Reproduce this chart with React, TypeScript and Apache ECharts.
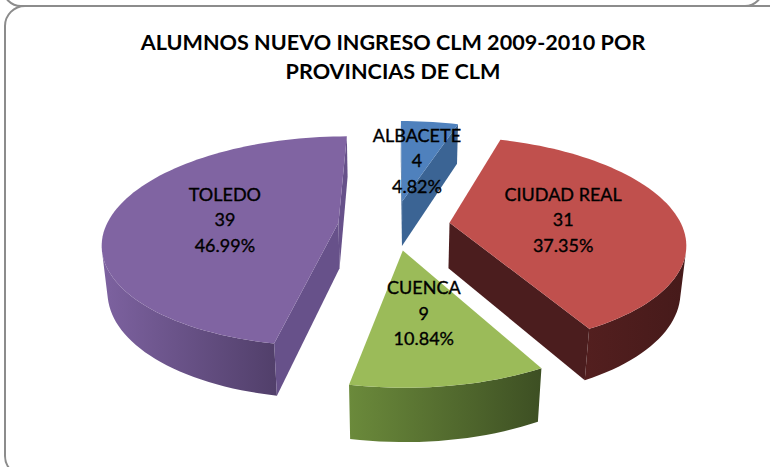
import React, { useEffect, useRef } from 'react';
import * as echarts from 'echarts';

// ---- data ----
const provinces = ['ALBACETE', 'CIUDAD REAL', 'CUENCA', 'TOLEDO'];
const alumnos = [4, 31, 9, 39];
const titleLines = ['ALUMNOS NUEVO INGRESO CLM 2009-2010 POR', 'PROVINCIAS DE CLM'];

// ---- styles ----
const topColors = ['#4F81BD', '#C0504D', '#9BBB59', '#8064A2'];
const wallColors = ['#3b6494', '#4b1d1e', '#5d7a34', '#67518a'];
const sideLight = ['#3f6a9c', '#531f1f', '#6b8a3b', '#7d62a0'];
const sideDark = ['#2e4f78', '#461a1a', '#3d4f23', '#513f6a'];

// ---- 3D geometry (view) ----
const CX = 394;
const CY = 225;
const R = 232;
const EXPLODE = 56;
const H = 52;
const PHI = (26.2 * Math.PI) / 180;
const DIST = 1170;
const SPH = Math.sin(PHI);
const CPH = Math.cos(PHI);
const CAM = [0, DIST * SPH, -DIST * CPH];

function proj(X: number, Y: number, Z: number): number[] {
  const xc = X;
  const yc = Y * CPH + Z * SPH;
  const zc = -Y * SPH + Z * CPH;
  const s = DIST / (DIST + zc);
  return [CX + xc * s, CY - yc * s];
}
const rad = (d: number) => (d * Math.PI) / 180;

const total = alumnos.reduce((a, b) => a + b, 0);
const starts: number[] = [];
{
  let acc = 0;
  alumnos.forEach((v) => {
    starts.push((acc / total) * 360);
    acc += v;
  });
}

function renderItem(params: any, api: any) {
  const i = params.dataIndex;
  const v = api.value(0);
  const a0 = starts[i];
  const a1 = a0 + (v / total) * 360;
  const mid = (a0 + a1) / 2;
  const ox = EXPLODE * Math.sin(rad(mid));
  const oz = EXPLODE * Math.cos(rad(mid));
  const rimPt = (t: number, Y: number) =>
    proj(ox + R * Math.sin(rad(t)), Y, oz + R * Math.cos(rad(t)));

  const children: any[] = [];

  // outer cylindrical wall (visible part)
  const steps = Math.max(4, Math.ceil((a1 - a0) / 2));
  const dt = (a1 - a0) / steps;
  let vs = -1;
  let ve = -1;
  for (let k = 0; k < steps; k++) {
    const m = rad(a0 + (k + 0.5) * dt);
    const nx = Math.sin(m);
    const nz = Math.cos(m);
    const px = ox + R * nx;
    const pz = oz + R * nz;
    const dot = nx * (CAM[0] - px) + nz * (CAM[2] - pz);
    if (dot > 0) {
      if (vs < 0) vs = k;
      ve = k + 1;
    }
  }
  if (vs >= 0) {
    const topPts: number[][] = [];
    const botPts: number[][] = [];
    for (let k = vs; k <= ve; k++) {
      const t = a0 + k * dt;
      topPts.push(rimPt(t, 0));
      botPts.push(rimPt(t, -H));
    }
    children.push({
      type: 'polygon',
      shape: { points: topPts.concat(botPts.reverse()) },
      style: {
        fill: new echarts.graphic.LinearGradient(0, 0, 1, 0, [
          { offset: 0, color: sideLight[i] },
          { offset: 1, color: sideDark[i] },
        ]),
      },
    });
  }

  // radial walls
  const radial = (t: number, sign: number) => {
    const nAng = rad(t + sign * 90);
    const nx = Math.sin(nAng);
    const nz = Math.cos(nAng);
    const px = ox + (R / 2) * Math.sin(rad(t));
    const pz = oz + (R / 2) * Math.cos(rad(t));
    const dot = nx * (CAM[0] - px) + nz * (CAM[2] - pz);
    if (dot <= 0) return;
    children.push({
      type: 'polygon',
      shape: {
        points: [proj(ox, 0, oz), rimPt(t, 0), rimPt(t, -H), proj(ox, -H, oz)],
      },
      style: { fill: wallColors[i] },
    });
  };
  radial(a0, -1);
  radial(a1, 1);

  // top face
  const face: number[][] = [proj(ox, 0, oz)];
  for (let k = 0; k <= steps; k++) face.push(rimPt(a0 + k * dt, 0));
  children.push({ type: 'polygon', shape: { points: face }, style: { fill: topColors[i] } });

  // label
  const lr = R * 0.5;
  const lp = proj(ox + lr * Math.sin(rad(mid)), 0, oz + lr * Math.cos(rad(mid)));
  const pct = ((v / total) * 100).toFixed(2);
  children.push({
    type: 'text',
    x: lp[0],
    y: lp[1] + 1.5,
    style: {
      text: `${provinces[i]}\n${v}\n${pct}%`,
      fill: '#000',
      font: '18px Lato',
      lineHeight: 25.5,
      align: 'center',
      verticalAlign: 'middle',
      stroke: '#000',
      lineWidth: 0.35,
    },
  });

  return { type: 'group', children };
}

export default function App() {
  const ref = useRef<HTMLDivElement>(null);
  useEffect(() => {
    if (!ref.current) return;
    const chart = echarts.init(ref.current, undefined, { renderer: 'svg' });
    chart.setOption({
      animation: false,
      backgroundColor: '#ffffff',
      graphic: [
        {
          type: 'rect',
          shape: { x: 3, y: -420, width: 760, height: 426, r: 18 },
          style: { fill: 'none', stroke: '#8c8c8c', lineWidth: 2 },
          silent: true,
        },
        {
          type: 'rect',
          shape: { x: 5, y: 6, width: 790, height: 470, r: 20 },
          style: { fill: 'none', stroke: '#8c8c8c', lineWidth: 2 },
          silent: true,
        },
        {
          type: 'text',
          x: 393,
          y: 42,
          style: {
            text: titleLines[0],
            font: 'bold 21.6px Lato',
            fill: '#000',
            align: 'center',
            verticalAlign: 'middle',
          },
        },
        {
          type: 'text',
          x: 393,
          y: 71,
          style: {
            text: titleLines[1],
            font: 'bold 21.6px Lato',
            fill: '#000',
            align: 'center',
            verticalAlign: 'middle',
          },
        },
      ],
      series: [
        {
          type: 'custom',
          coordinateSystem: 'none',
          silent: true,
          renderItem,
          data: alumnos.map((v, i) => ({ name: provinces[i], value: v })),
        },
      ],
    });
    return () => chart.dispose();
  }, []);
  return (
    <div
      ref={ref}
      style={{ position: 'fixed', left: 0, top: 0, width: 770, height: 467 }}
    />
  );
}
